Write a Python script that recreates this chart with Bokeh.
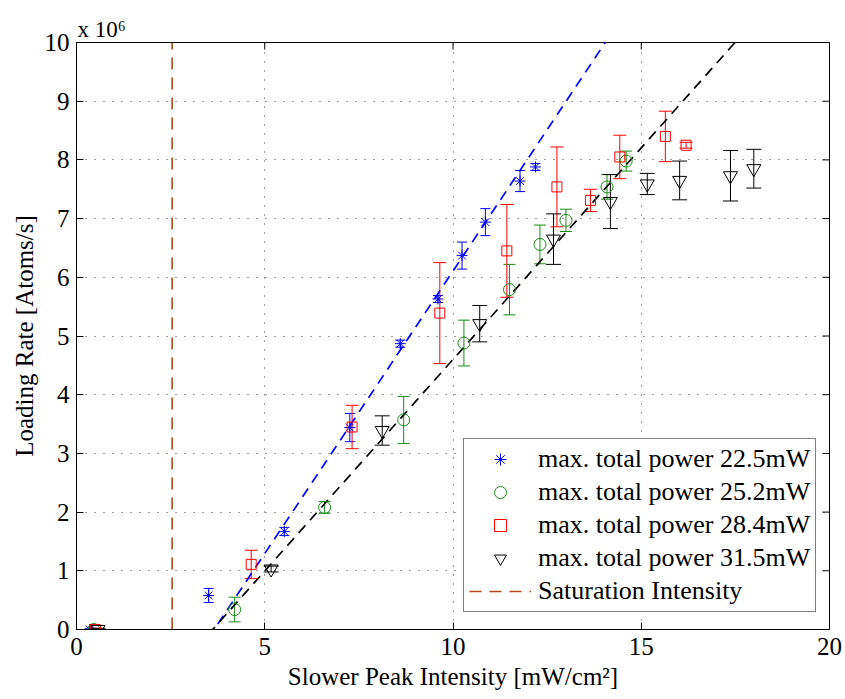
import math
from bokeh.plotting import figure
from bokeh.models import (ColumnDataSource, Whisker, TeeHead, Legend, LegendItem,
                          FixedTicker, Range1d, Title)
from bokeh.embed import file_html
from bokeh.resources import INLINE

# ---------------- data (loading rate in units of 1e6 atoms/s) ----------------
x_225 = [0.35, 3.51, 5.52, 7.26, 8.60, 9.60, 10.24, 10.86, 11.78, 12.19]
y_225 = [0.00, 0.58, 1.67, 3.44, 4.87, 5.63, 6.37, 6.94, 7.64, 7.88]
e_225 = [0.02, 0.12, 0.07, 0.24, 0.06, 0.06, 0.23, 0.23, 0.18, 0.06]

x_252 = [0.46, 4.20, 6.59, 8.69, 10.29, 11.50, 12.31, 13.00, 14.09, 14.60]
y_252 = [0.00, 0.34, 2.08, 3.57, 4.88, 5.79, 6.56, 6.97, 7.54, 7.98]
e_252 = [0.02, 0.21, 0.10, 0.40, 0.39, 0.43, 0.33, 0.19, 0.21, 0.17]

x_284 = [0.50, 4.64, 7.32, 9.65, 11.43, 12.76, 13.65, 14.43, 15.64, 16.19]
y_284 = [0.00, 1.11, 3.45, 5.39, 6.45, 7.54, 7.31, 8.05, 8.40, 8.25]
e_284 = [0.02, 0.24, 0.37, 0.86, 0.79, 0.68, 0.19, 0.37, 0.43, 0.05]

x_315 = [0.57, 5.17, 8.12, 10.71, 12.67, 14.18, 15.16, 16.02, 17.37, 17.99]
y_315 = [0.00, 1.03, 3.39, 5.21, 6.65, 7.29, 7.59, 7.65, 7.73, 7.85]
e_315 = [0.02, 0.05, 0.25, 0.31, 0.43, 0.46, 0.18, 0.33, 0.43, 0.33]

# linear fits (end points)
fit_blue_x = [3.25, 14.20]
fit_blue_y = [-0.39, 10.15]
fit_black_x = [2.30, 17.81]
fit_black_y = [-0.95, 10.23]

# saturation intensity
sat_x = [2.54, 2.54]
sat_y = [0.0, 10.0]

labels = ["max. total power 22.5mW", "max. total power 25.2mW",
          "max. total power 28.4mW", "max. total power 31.5mW",
          "Saturation Intensity"]
x_ticks = [0, 5, 10, 15, 20]
y_ticks = [0, 1, 2, 3, 4, 5, 6, 7, 8, 9, 10]

FONT = "Liberation Serif"
BLUE, GREEN, RED, BLACK, BROWN = "#0000FF", "#1a8c1a", "#FF0000", "#000000", "#B4481A"

p = figure(width=845, height=699, output_backend="svg", toolbar_location=None,
           x_range=Range1d(0, 20), y_range=Range1d(0, 10),
           min_border_left=76, min_border_right=16, min_border_top=42, min_border_bottom=70)
p.background_fill_color = "white"
p.border_fill_color = "white"
p.outline_line_color = "black"
p.outline_line_width = 1

for ax, ticks in ((p.xaxis[0], x_ticks), (p.yaxis[0], y_ticks)):
    ax.ticker = FixedTicker(ticks=ticks)
    ax.major_label_text_font = FONT
    ax.major_label_text_font_size = "25px"
    ax.major_label_text_color = "black"
    ax.major_tick_in = 7
    ax.major_tick_out = 0
    ax.minor_tick_line_color = None
    ax.axis_line_color = "black"
    ax.major_tick_line_color = "black"
p.xaxis.major_label_standoff = 8
p.yaxis.major_label_standoff = 7

p.xgrid.ticker = FixedTicker(ticks=x_ticks)
p.ygrid.ticker = FixedTicker(ticks=y_ticks)
for g in (p.xgrid[0], p.ygrid[0]):
    g.grid_line_color = "black"
    g.grid_line_alpha = 0.75
    g.grid_line_dash = "1 8"
    g.grid_line_width = 1

# inward ticks on the top and right edges of the box (half of each dash is clipped)
p.scatter(x=x_ticks, y=[y_ticks[-1]] * len(x_ticks), marker="dash", angle=math.pi / 2,
          size=14, line_color="black", line_width=1)
p.scatter(x=[x_ticks[-1]] * len(y_ticks), y=y_ticks, marker="dash",
          size=14, line_color="black", line_width=1)

# saturation line
r_sat = p.line(sat_x, sat_y, line_color=BROWN, line_width=1.6, line_dash="12 8")

# fit lines
p.line(fit_blue_x, fit_blue_y, line_color=BLUE, line_width=1.7, line_dash="10 7")
p.line(fit_black_x, fit_black_y, line_color=BLACK, line_width=1.7, line_dash="10 7")

series = [
    (x_225, y_225, e_225, BLUE, "asterisk", 11, 10),
    (x_252, y_252, e_252, GREEN, "circle", 12, 12),
    (x_284, y_284, e_284, RED, "square", 10, 13),
    (x_315, y_315, e_315, BLACK, "inverted_triangle", 14, 15),
]
renderers = []
for xs, ys, es, col, mk, sz, cap in series:
    src = ColumnDataSource(dict(x=xs, y=ys,
                                lo=[a - b for a, b in zip(ys, es)],
                                hi=[a + b for a, b in zip(ys, es)]))
    w = Whisker(source=src, base="x", lower="lo", upper="hi", dimension="height",
                line_color=col, line_width=1,
                lower_head=TeeHead(size=cap, line_color=col, line_width=1),
                upper_head=TeeHead(size=cap, line_color=col, line_width=1))
    p.add_layout(w)
    r = p.scatter("x", "y", source=src, marker=mk, size=sz, line_color=col,
                  fill_color=None, line_width=1)
    renderers.append(r)

items = [LegendItem(label=labels[i], renderers=[renderers[i]]) for i in range(4)]
items.append(LegendItem(label=labels[4], renderers=[r_sat]))
leg = Legend(items=items, location=(387, 17), glyph_width=62, glyph_height=30,
             label_height=30, label_standoff=7, padding=5, spacing=3, margin=0,
             label_text_font=FONT, label_text_font_size="26px",
             label_text_color="black",
             border_line_color="black", border_line_width=1,
             background_fill_color="white", background_fill_alpha=1.0)
p.add_layout(leg, "center")

# axis titles and exponent (as titles in the side panels)
p.add_layout(Title(text="Slower Peak Intensity [mW/cm²]", align="center", offset=-27,
                   text_font=FONT, text_font_size="25px", text_font_style="normal",
                   text_color="black", standoff=6), "below")
p.add_layout(Title(text="Loading Rate [Atoms/s]", align="center", offset=12,
                   text_font=FONT, text_font_size="25px", text_font_style="normal",
                   text_color="black", standoff=7), "left")
p.add_layout(Title(text="x 10⁶", align="left", offset=1,
                   text_font=FONT, text_font_size="23px", text_font_style="normal",
                   text_color="black", standoff=2), "above")

open("out.html", "w").write(file_html(p, INLINE))
